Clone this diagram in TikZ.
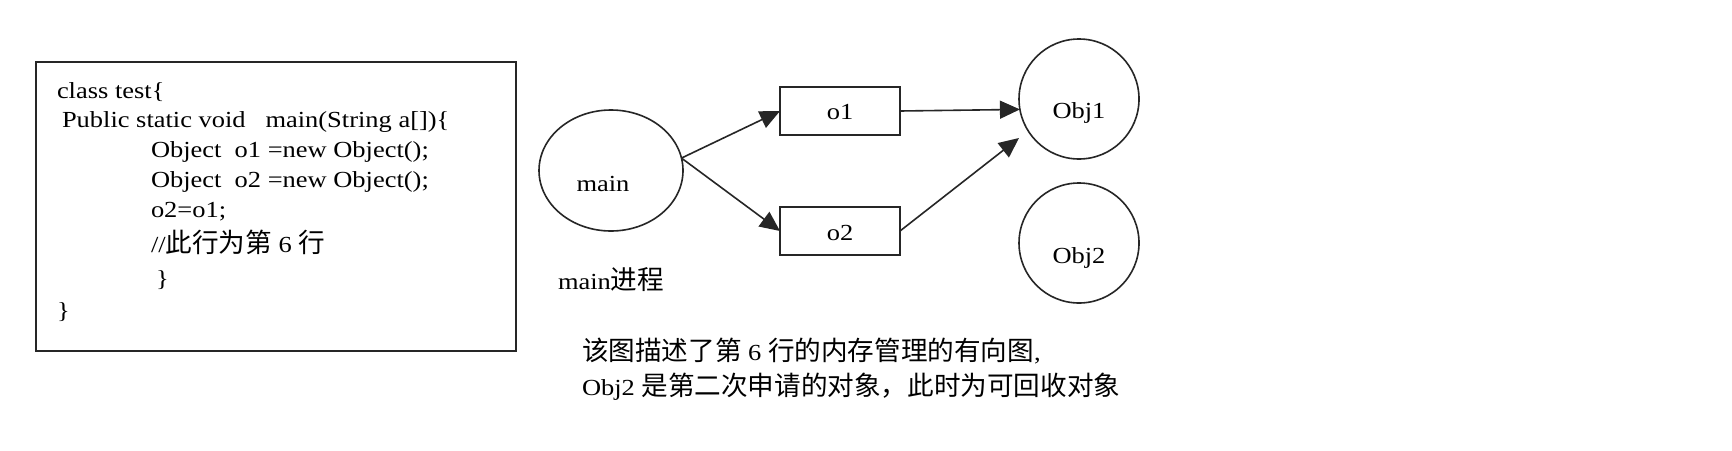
\documentclass[tikz,border=0pt]{standalone}
\usepackage{fontspec}
\setmainfont{Liberation Serif}[FakeStretch=1.15]
\newfontfamily\cjk{Noto Sans CJK SC}
\usetikzlibrary{arrows.meta,shapes.geometric}
\newcommand\zh[1]{{\fontsize{13.3pt}{15pt}\selectfont\cjk #1}}
\begin{document}
\begin{tikzpicture}[x=0.5pt,y=-0.5pt,
  font=\fontsize{11.5pt}{14pt}\selectfont,
  txt/.style={inner sep=0pt, outer sep=0pt},
  frame/.style={draw=black!85, line width=1pt, inner sep=0pt, outer sep=0pt},
  roundshape/.style={draw=black!85, line width=0.8pt, inner sep=0pt, outer sep=0pt},
  arr/.style={draw=black!85, line width=0.8pt, -{Triangle[length=10pt,width=9pt]}}]
\path[fill=white] (0,0) rectangle (1732,450);
\useasboundingbox (0,0) rectangle (1732,450);

% code box
\node[frame, minimum width=240pt, minimum height=144.5pt] (code) at (276,206.5) {};
\node[txt, anchor=base west] (c1) at (57,98) {class test\{};
\node[txt, anchor=base west] (c2) at (62,127) {Public static void\ \ \ main(String a[])\{};
\node[txt, anchor=base west] (c3) at (151,157) {Object\ \ o1 =new Object();};
\node[txt, anchor=base west] (c4) at (151,187) {Object\ \ o2 =new Object();};
\node[txt, anchor=base west] (c5) at (151,217) {o2=o1;};
\node[txt, anchor=base west] (c6) at (151,252) {//\zh{此行为第} 6 \zh{行}};
\node[txt, anchor=base west] (c7) at (156,286) {\}};
\node[txt, anchor=base west] (c8) at (57,318) {\}};

% graph
\node[roundshape, ellipse, minimum width=72pt, minimum height=60.5pt] (main) at (611,170.5) {};
\node[txt, anchor=base] (lmain) at (603,191) {main};
\node[txt, anchor=base west] (lproc) at (558,289) {main\zh{进程}};

\node[frame, minimum width=60pt, minimum height=24pt] (o1) at (840,111) {};
\node[txt, anchor=base] (lo1) at (840,119) {o1};
\node[frame, minimum width=60pt, minimum height=24pt] (o2) at (840,231) {};
\node[txt, anchor=base] (lo2) at (840,240) {o2};

\node[roundshape, circle, minimum size=60pt] (obj1) at (1079,99) {};
\node[txt, anchor=base] (lobj1) at (1079,118) {Obj1};
\node[roundshape, circle, minimum size=60pt] (obj2) at (1079,243) {};
\node[txt, anchor=base] (lobj2) at (1079,263) {Obj2};

\coordinate (t2) at (1019,138);
\draw[arr] (main.10) -- (o1.west);
\draw[arr] (main.10) -- (o2.west);
\draw[arr] (o1.east) -- (obj1.190);
\draw[arr] (o2.east) -- (t2);

% caption
\node[txt, anchor=base west] (cap1) at (582,360) {\zh{该图描述了第} 6 \zh{行的内存管理的有向图},};
\node[txt, anchor=base west] (cap2) at (582,395) {Obj2 \zh{是第二次申请的对象，此时为可回收对象}};
\end{tikzpicture}
\end{document}
